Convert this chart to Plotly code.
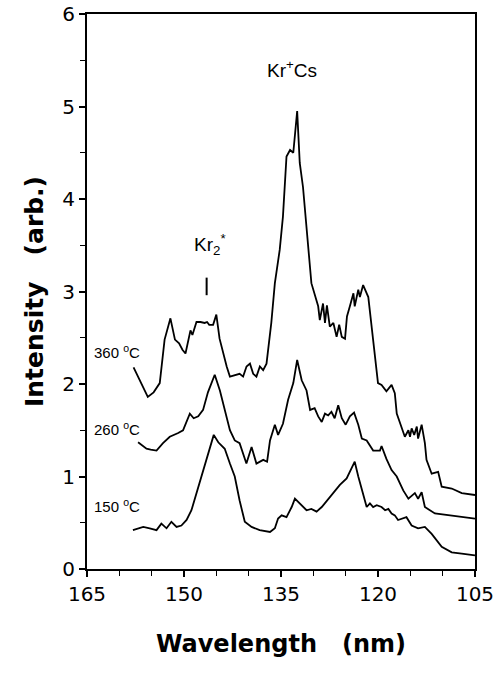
import plotly.graph_objects as go

# ---- data ----
wl_360 = [157.8, 156.8, 155.6, 154.7, 153.75, 153.0, 152.1, 151.4, 150.76, 150.24,
          149.77, 149.0, 148.7, 148.07, 147.45, 146.8, 146.43, 146.1, 145.5, 145.0,
          144.5, 143.4, 142.9, 141.4, 140.86, 140.33, 139.8, 139.3, 138.8, 138.27,
          137.76, 137.24, 136.5, 135.95, 135.2, 134.7, 134.15, 133.6, 133.1, 132.5,
          132.1, 131.6, 131.05, 130.3, 129.25, 129.0, 128.5, 128.2, 127.9, 127.45,
          126.9, 126.4, 126.0, 125.6, 125.1, 124.8, 124.35, 123.8, 123.6, 123.05,
          122.8, 122.3, 121.5, 121.0, 120.5, 120.0, 119.45, 118.7, 117.9, 117.4,
          117.1, 116.35, 115.85, 115.3, 115.05, 114.8, 114.4, 114.0, 113.8, 113.25,
          112.75, 112.5, 111.7, 110.7, 110.15, 108.6, 107.05, 105.0]
int_360 = [2.18, 2.04, 1.86, 1.91, 2.01, 2.48, 2.71, 2.48, 2.44, 2.37,
           2.33, 2.58, 2.53, 2.67, 2.67, 2.66, 2.67, 2.64, 2.64, 2.75,
           2.49, 2.19, 2.08, 2.11, 2.08, 2.19, 2.22, 2.11, 2.08, 2.19,
           2.15, 2.22, 2.66, 3.09, 3.45, 3.81, 4.46, 4.53, 4.50, 4.95,
           4.39, 4.13, 3.67, 3.09, 2.84, 2.69, 2.87, 2.66, 2.85, 2.62,
           2.66, 2.51, 2.64, 2.51, 2.49, 2.73, 2.84, 2.98, 2.84, 3.02,
           2.94, 3.07, 2.94, 2.62, 2.37, 2.01, 1.99, 1.92, 1.99, 1.90,
           1.68, 1.54, 1.43, 1.50, 1.43, 1.52, 1.45, 1.54, 1.41, 1.56,
           1.36, 1.18, 1.03, 1.05, 0.89, 0.87, 0.82, 0.80]

wl_260 = [157.1, 155.8, 155.15, 154.25, 153.25, 152.2, 150.9, 150.15, 149.1, 148.5,
          147.8, 147.05, 146.3, 145.7, 145.25, 144.45, 143.7, 142.9, 142.15, 141.4,
          140.35, 139.55, 138.8, 137.75, 137.15, 136.7, 135.95, 135.45, 134.7, 133.9,
          133.1, 132.5, 131.8, 131.05, 130.5, 129.8, 129.25, 128.7, 128.2, 127.7,
          127.2, 126.7, 126.15, 125.6, 125.0, 124.35, 123.7, 123.05, 122.5, 121.75,
          120.75, 119.7, 119.45, 118.7, 117.9, 117.1, 116.1, 115.3, 114.3, 113.8,
          113.25, 112.75, 111.2, 109.1, 107.05, 105.0]
int_260 = [1.37, 1.30, 1.29, 1.28, 1.36, 1.43, 1.47, 1.50, 1.68, 1.63,
           1.65, 1.72, 1.91, 2.01, 2.10, 1.93, 1.72, 1.50, 1.39, 1.36,
           1.14, 1.32, 1.14, 1.18, 1.16, 1.39, 1.56, 1.45, 1.57, 1.83,
           2.01, 2.26, 2.04, 1.93, 1.72, 1.74, 1.65, 1.59, 1.68, 1.66,
           1.70, 1.63, 1.77, 1.63, 1.56, 1.65, 1.69, 1.56, 1.41, 1.39,
           1.28, 1.28, 1.33, 1.19, 1.07, 1.00, 0.85, 0.76, 0.82, 0.76,
           0.83, 0.67, 0.60, 0.58, 0.56, 0.545]

wl_150 = [157.9, 156.3, 155.3, 154.25, 153.5, 152.7, 151.95, 151.15, 150.4, 149.6,
          148.85, 147.8, 146.8, 146.0, 145.4, 144.7, 143.7, 142.9, 142.15, 141.4,
          140.6, 139.55, 138.3, 136.7, 135.95, 135.45, 134.9, 134.15, 133.35, 132.85,
          132.1, 131.05, 130.3, 129.5, 128.7, 127.7, 126.9, 125.9, 124.85, 124.1,
          123.6, 123.05, 122.5, 121.75, 121.25, 120.75, 120.2, 119.45, 118.9, 118.4,
          117.9, 117.4, 116.9, 116.35, 115.6, 114.8, 113.8, 112.75, 111.7, 110.15,
          108.6, 107.05, 105.0]
int_150 = [0.42, 0.455, 0.44, 0.42, 0.49, 0.44, 0.51, 0.455, 0.47, 0.53,
           0.635, 0.89, 1.12, 1.32, 1.45, 1.37, 1.30, 1.14, 1.00, 0.74,
           0.51, 0.455, 0.42, 0.40, 0.44, 0.545, 0.58, 0.56, 0.67, 0.76,
           0.71, 0.635, 0.65, 0.62, 0.67, 0.76, 0.83, 0.91, 0.98, 1.09,
           1.16, 1.00, 0.85, 0.67, 0.71, 0.67, 0.69, 0.67, 0.635, 0.65,
           0.60, 0.58, 0.53, 0.545, 0.56, 0.47, 0.44, 0.455, 0.38, 0.24,
           0.18, 0.167, 0.148]

x_ticks = [165, 150, 135, 120, 105]
y_ticks = [0, 1, 2, 3, 4, 5, 6]

series_labels = ["360 <sup>o</sup>C", "260 <sup>o</sup>C", "150 <sup>o</sup>C"]
label_wl = [164.3, 164.3, 164.3]
label_y = [2.35, 1.52, 0.69]

peak_labels = ["Kr<sup>+</sup>Cs", "Kr<sub>2</sub><sup>*</sup>"]
peak_wl = [133.3, 146.0]
peak_y = [5.41, 3.51]
marker_wl = 146.5
marker_y = [2.96, 3.15]

# ---- figure ----
fig = go.Figure()
for wl, it, name in [(wl_360, int_360, "360"), (wl_260, int_260, "260"), (wl_150, int_150, "150")]:
    fig.add_trace(go.Scatter(x=wl, y=it, mode="lines", name=name,
                             line=dict(color="black", width=1.8), showlegend=False))

for txt, xv, yv in zip(series_labels, label_wl, label_y):
    fig.add_annotation(x=xv, y=yv, xref="x", yref="y", text=txt, showarrow=False,
                       xanchor="left", yanchor="middle",
                       font=dict(family="Liberation Sans, Arial", size=15, color="black"))

for txt, xv, yv in zip(peak_labels, peak_wl, peak_y):
    fig.add_annotation(x=xv, y=yv, xref="x", yref="y", text=txt, showarrow=False,
                       xanchor="center", yanchor="middle",
                       font=dict(family="Liberation Sans, Arial", size=19, color="black"))

fig.add_shape(type="line", xref="x", yref="y", x0=marker_wl, x1=marker_wl,
              y0=marker_y[0], y1=marker_y[1], line=dict(color="black", width=2))

axis_common = dict(showline=True, linecolor="black", linewidth=2, mirror=True,
                   ticks="outside", ticklen=6, tickwidth=1.5, tickcolor="black",
                   showgrid=False, zeroline=False,
                   tickfont=dict(family="DejaVu Sans", size=20, color="black"))

fig.update_xaxes(range=[165, 105], tickmode="array", tickvals=x_ticks,
                 ticktext=[str(t) for t in x_ticks],
                 minor=dict(dtick=5, ticks="outside", ticklen=5, tickwidth=1.2, tickcolor="black"),
                 title=dict(text="Wavelength   (nm)", standoff=30,
                            font=dict(family="DejaVu Sans", size=24, color="black", weight="bold")),
                 **axis_common)
fig.update_yaxes(range=[0, 6], tickmode="array", tickvals=y_ticks,
                 minor=dict(dtick=0.5, ticks="outside", ticklen=5, tickwidth=1.2, tickcolor="black"),
                 title=dict(text="Intensity   (arb.)", standoff=12,
                            font=dict(family="DejaVu Sans", size=25, color="black", weight="bold")),
                 **axis_common)

fig.update_layout(width=500, height=675, plot_bgcolor="white", paper_bgcolor="white",
                  margin=dict(l=87, r=25, t=14, b=106, autoexpand=False))

fig.write_html("out.html")
